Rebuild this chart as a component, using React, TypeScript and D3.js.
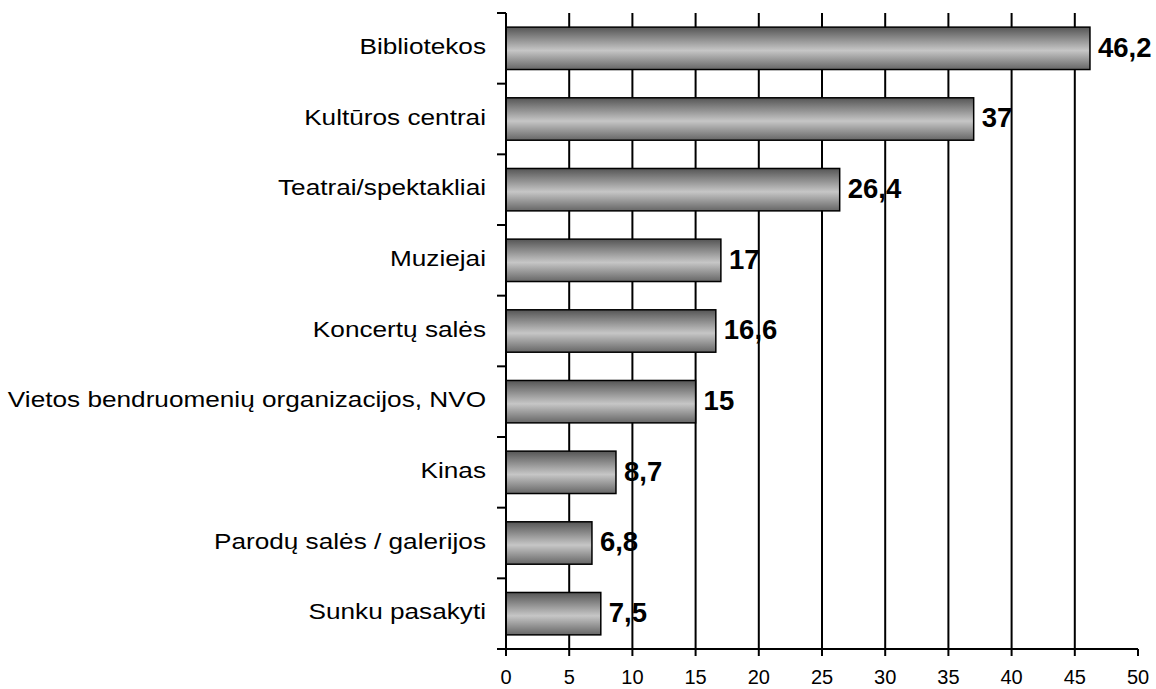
import React from "react";
import * as d3 from "d3";

const categories = [
  "Bibliotekos",
  "Kultūros centrai",
  "Teatrai/spektakliai",
  "Muziejai",
  "Koncertų salės",
  "Vietos bendruomenių organizacijos, NVO",
  "Kinas",
  "Parodų salės / galerijos",
  "Sunku pasakyti",
];
const values = [46.2, 37, 26.4, 17, 16.6, 15, 8.7, 6.8, 7.5];
const xTicks = [0, 5, 10, 15, 20, 25, 30, 35, 40, 45, 50];

const W = 1156;
const H = 689;
const left = 506;
const right = 1138;
const top = 13;
const bottom = 649;
const font = "'Liberation Sans', Arial, sans-serif";

export default function App() {
  const x = d3.scaleLinear().domain([0, 50]).range([left, right]);
  const y = d3
    .scaleBand<string>()
    .domain(categories)
    .range([top, bottom])
    .paddingInner(0.4)
    .paddingOuter(0.2);
  const boundaries = d3.range(categories.length + 1).map((i) => top + i * ((bottom - top) / categories.length));
  const fmt = (v: number) => String(v).replace(".", ",");

  return (
    <svg width={W} height={H} style={{ position: "absolute", left: 0, top: 0 }}>
      <defs>
        <linearGradient id="barGrad" x1="0" y1="0" x2="0" y2="1">
          <stop offset="0%" stopColor="#555555" />
          <stop offset="55%" stopColor="#c6c6c6" />
          <stop offset="100%" stopColor="#666666" />
        </linearGradient>
      </defs>
      {/* gridlines */}
      {xTicks.filter((t) => t > 0 && t < 50).map((t) => (
        <line key={"g" + t} x1={x(t)} x2={x(t)} y1={top} y2={bottom} stroke="#000" strokeWidth={2} />
      ))}
      {/* bars */}
      {categories.map((c, i) => (
        <rect
          key={c}
          x={x(0)}
          y={y(c)!}
          width={x(values[i]) - x(0)}
          height={y.bandwidth()}
          fill="url(#barGrad)"
          stroke="#000"
          strokeWidth={1.5}
        />
      ))}
      {/* y axis */}
      <line x1={left} x2={left} y1={top} y2={bottom} stroke="#000" strokeWidth={2} />
      {boundaries.map((b, i) => (
        <line key={"yt" + i} x1={left - 9} x2={left} y1={b} y2={b} stroke="#000" strokeWidth={2} />
      ))}
      {/* x axis */}
      <line x1={left - 9} x2={right} y1={bottom} y2={bottom} stroke="#000" strokeWidth={2} />
      {xTicks.map((t) => (
        <g key={"xt" + t}>
          <line x1={x(t)} x2={x(t)} y1={bottom} y2={bottom + 7} stroke="#000" strokeWidth={2} />
          <text x={x(t)} y={bottom + 30} textAnchor="middle" dominantBaseline="middle" fontFamily={font} fontSize={20} fill="#000">
            {t}
          </text>
        </g>
      ))}
      {/* category labels */}
      {categories.map((c) => (
        <text
          key={"l" + c}
          transform={`translate(486,${y(c)! + y.bandwidth() / 2}) scale(1.19,1)`}
          textAnchor="end"
          dominantBaseline="middle"
          fontFamily={font}
          fontSize={22}
          fill="#000"
        >
          {c}
        </text>
      ))}
      {/* value labels */}
      {categories.map((c, i) => (
        <text
          key={"v" + c}
          x={x(values[i]) + 8}
          y={y(c)! + y.bandwidth() / 2 + 1}
          dominantBaseline="middle"
          fontFamily={font}
          fontSize={27.5}
          fontWeight="bold"
          fill="#000"
        >
          {fmt(values[i])}
        </text>
      ))}
    </svg>
  );
}
